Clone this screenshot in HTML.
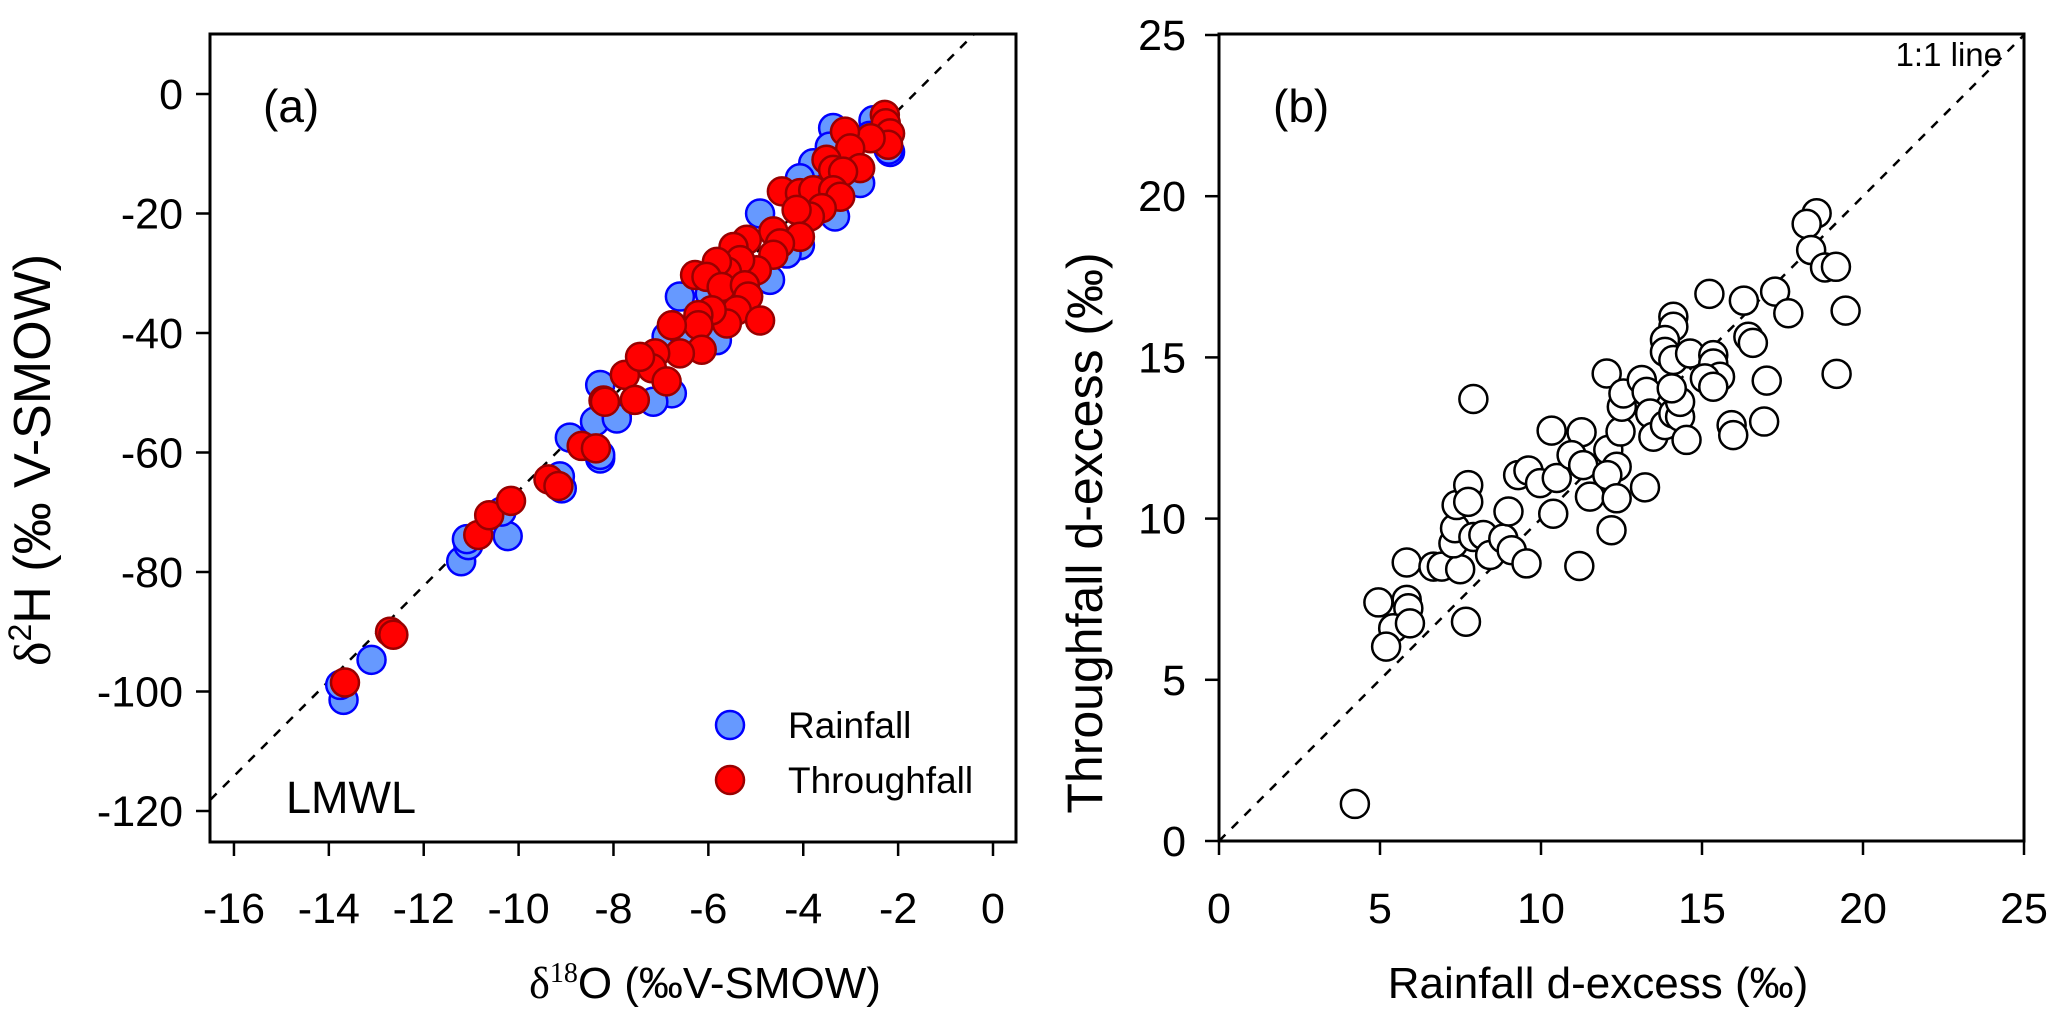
<!DOCTYPE html>
<html><head><meta charset="utf-8"><style>
html,body{margin:0;padding:0;background:#fff;}
svg{display:block;font-family:"Liberation Sans",Arial,sans-serif;}
</style></head><body>
<svg id="chart" width="2067" height="1026" viewBox="0 0 2067 1026" xmlns="http://www.w3.org/2000/svg">
<g id="pa"></g>
<g id="pb"></g>
</svg>
<script>
// Panel (a) data
const rainX = [-13.69,-13.76,-13.10,-11.21,-11.06,-11.09,-10.23,-10.36,-9.09,-9.13,-8.28,-8.92,-8.39,-7.93,-8.28,-3.37,-2.52,-2.17,-2.80,-3.79,-3.33,-4.07,-4.91,-4.07,-4.70,-6.60,-5.97,-5.82,-6.88,-6.77,-7.16,-7.93,-8.28,-6.53,-5.40,-4.35,-3.44,-2.2,-2.6];
const rainY = [-101.4,-98.9,-94.7,-78.2,-75.5,-74.5,-74.0,-69.9,-66.0,-64.0,-61.0,-57.5,-54.8,-54.0,-48.7,-5.7,-4.4,-9.7,-14.9,-11.6,-20.5,-14.1,-20.0,-25.3,-31.1,-33.9,-33.4,-41.2,-40.6,-50.1,-51.5,-54.3,-60.4,-40.0,-27.2,-26.7,-8.8,-9.3,-7.0];
const tfX = [-13.66,-12.71,-12.64,-10.85,-10.62,-10.16,-9.37,-9.16,-8.67,-8.37,-8.21,-2.28,-2.26,-2.17,-2.21,-2.58,-3.12,-3.01,-2.80,-3.51,-3.37,-3.16,-4.45,-4.07,-3.79,-3.37,-3.22,-3.61,-3.86,-4.14,-4.63,-4.07,-4.49,-5.19,-5.47,-4.63,-4.98,-5.33,-5.61,-5.82,-6.28,-6.04,-5.72,-5.23,-5.16,-5.40,-4.91,-5.61,-5.93,-6.21,-6.21,-6.77,-6.14,-6.60,-7.12,-7.76,-7.19,-6.88,-7.55,-8.18,-7.44];
const tfY = [-98.5,-90.0,-90.5,-73.8,-70.5,-68.1,-64.5,-65.6,-58.9,-59.3,-51.3,-3.5,-4.9,-6.6,-8.5,-7.4,-6.3,-9.1,-12.4,-11.0,-12.7,-13.0,-16.3,-16.6,-16.1,-16.1,-17.2,-19.1,-20.5,-19.4,-23.0,-23.9,-25.0,-24.4,-25.6,-26.9,-29.5,-27.8,-29.7,-28.1,-30.3,-30.6,-32.3,-32.0,-33.9,-36.2,-37.9,-38.4,-36.2,-37.0,-38.7,-38.7,-42.8,-43.4,-43.4,-47.0,-45.9,-48.1,-51.2,-51.5,-44.0];
const aXTicks = [-16,-14,-12,-10,-8,-6,-4,-2,0];
const aYTicks = [0,-20,-40,-60,-80,-100,-120];
// Panel (b) data
const dRain = [4.22,7.90,4.95,5.83,5.88,5.41,5.93,5.19,7.67,5.83,6.66,6.92,7.49,7.28,7.33,7.38,7.74,7.74,7.90,8.21,8.42,8.83,9.09,9.55,8.99,9.29,9.61,9.97,10.49,10.38,10.33,11.26,10.95,11.31,11.52,11.19,12.09,12.35,12.06,12.35,12.19,13.23,12.04,12.47,12.51,12.56,13.13,13.28,13.39,13.49,13.85,14.11,14.32,14.32,14.06,14.52,14.11,14.11,13.85,13.85,14.11,14.63,15.35,15.35,15.56,15.09,15.35,15.23,16.30,16.44,15.92,15.97,18.56,18.25,18.39,18.82,19.16,17.27,17.68,19.46,16.58,19.18,17.01,16.93];
const dThru = [1.15,13.71,7.40,7.48,7.22,6.60,6.75,6.03,6.80,8.64,8.51,8.51,8.43,9.23,9.70,10.42,11.04,10.52,9.43,9.49,8.87,9.38,9.02,8.61,10.22,11.35,11.49,11.10,11.26,10.15,12.73,12.68,11.97,11.66,10.68,8.53,12.13,11.61,11.35,10.63,9.64,10.97,14.50,12.70,13.47,13.88,14.30,13.93,13.26,12.54,12.90,13.26,13.16,13.62,14.04,12.44,16.26,15.95,15.54,15.17,14.92,15.12,15.07,14.81,14.40,14.35,14.09,16.97,16.76,15.64,12.90,12.59,19.47,19.14,18.33,17.79,17.81,17.04,16.37,16.45,15.45,14.49,14.28,13.01];
const bTicks = [0,5,10,15,20,25];

const NS = "http://www.w3.org/2000/svg";
function mk(parent, tag, attrs, text){
  const e = document.createElementNS(NS, tag);
  for (const k in attrs) e.setAttribute(k, attrs[k]);
  if (text !== undefined) e.textContent = text;
  parent.appendChild(e); return e;
}
const pa = document.getElementById('pa');
const pb = document.getElementById('pb');

// ---------- Panel A ----------
const A = {L:210, R:1016, T:34, B:842};
const ax = v => 993 + v*47.44;
const ay = v => 94 - v*5.975;
(function(){
  const f = x => 7.96*x + 13.2;
  const x0 = -16.5, x1 = (((94-A.T)/5.975) - 13.2)/7.96;
  const l = mk(pa,'line',{x1:ax(x0),y1:ay(f(x0)),x2:ax(x1),y2:ay(f(x1)),stroke:'#000','stroke-width':2.5,'stroke-dasharray':'9,9'});
  
  
})();
for (let i=0;i<rainX.length;i++){
  const c = mk(pa,'circle',{cx:ax(rainX[i]),cy:ay(rainY[i]),r:14,fill:'#6699ff',stroke:'#0000ff','stroke-width':2.5});
  
  
}
for (let i=0;i<tfX.length;i++){
  const c = mk(pa,'circle',{cx:ax(tfX[i]),cy:ay(tfY[i]),r:14,fill:'#ff0000',stroke:'#990000','stroke-width':2.5});
  
  
}
{
  const r = mk(pa,'rect',{x:A.L,y:A.T,width:A.R-A.L,height:A.B-A.T,fill:'none',stroke:'#000','stroke-width':3});
  
  
}
aXTicks.forEach(t=>{
  mk(pa,'line',{x1:ax(t),y1:A.B,x2:ax(t),y2:A.B+14,stroke:'#000','stroke-width':2.5});
  const tx = mk(pa,'text',{x:ax(t),y:923,'font-size':43,'text-anchor':'middle'}, String(t));
  
  
});
aYTicks.forEach(t=>{
  mk(pa,'line',{x1:A.L-14,y1:ay(t),x2:A.L,y2:ay(t),stroke:'#000','stroke-width':2.5});
  const tx = mk(pa,'text',{x:183,y:ay(t)+15,'font-size':43,'text-anchor':'end'}, String(t));
  
  
});
pa.insertAdjacentHTML('beforeend',
 '<text x="263" y="122" font-size="46">(a)</text>'+
 '<text x="286" y="813" font-size="45">LMWL</text>'+
 '<circle cx="730" cy="725" r="14" fill="#6699ff" stroke="#0000ff" stroke-width="2.5"/>'+
 '<text x="788" y="738" font-size="37">Rainfall</text>'+
 '<circle cx="730" cy="780" r="14" fill="#ff0000" stroke="#990000" stroke-width="2.5"/>'+
 '<text x="788" y="793" font-size="37">Throughfall</text>'+
 '<text x="705" y="998" font-size="44" text-anchor="middle"><tspan font-family="Liberation Serif">δ</tspan><tspan font-family="Liberation Serif" font-size="28" dy="-16">18</tspan><tspan dy="16">O (‰V-SMOW)</tspan></text>'+
 '<text transform="translate(50,460) rotate(-90)" font-size="52" text-anchor="middle"><tspan font-family="Liberation Serif">δ</tspan><tspan font-size="32" dy="-19">2</tspan><tspan dy="19">H (‰ V-SMOW)</tspan></text>'
);

// ---------- Panel B ----------
const B = {L:1219, R:2024, T:34, B:841};
const bx = v => 1219 + v*32.2;
const by = v => 841 - v*32.24;
{
  const l = mk(pb,'line',{x1:bx(0),y1:by(0),x2:bx(25),y2:by(25),stroke:'#000','stroke-width':2.5,'stroke-dasharray':'9,9'});
  
  
}
for (let i=0;i<dRain.length;i++){
  const c = mk(pb,'circle',{cx:bx(dRain[i]),cy:by(dThru[i]),r:14,fill:'#fff',stroke:'#000','stroke-width':2.5});
  
  
}
{
  const r = mk(pb,'rect',{x:B.L,y:B.T,width:B.R-B.L,height:B.B-B.T,fill:'none',stroke:'#000','stroke-width':3});
  
  
}
bTicks.forEach(t=>{
  mk(pb,'line',{x1:bx(t),y1:B.B,x2:bx(t),y2:B.B+14,stroke:'#000','stroke-width':2.5});
  const tx = mk(pb,'text',{x:bx(t),y:923,'font-size':43,'text-anchor':'middle'}, String(t));
  
  
  mk(pb,'line',{x1:B.L-14,y1:by(t),x2:B.L,y2:by(t),stroke:'#000','stroke-width':2.5});
  const ty = mk(pb,'text',{x:1186,y:by(t)+15,'font-size':43,'text-anchor':'end'}, String(t));
  
  
});
pb.insertAdjacentHTML('beforeend',
 '<text x="1273" y="122" font-size="46">(b)</text>'+
 '<text x="2002" y="66" font-size="33" text-anchor="end">1:1 line</text>'+
 '<text x="1598" y="998" font-size="44" text-anchor="middle">Rainfall d-excess (‰)</text>'+
 '<text transform="translate(1102,533) rotate(-90)" font-size="50" text-anchor="middle">Throughfall d-excess (‰)</text>'
);
</script>
</body></html>
